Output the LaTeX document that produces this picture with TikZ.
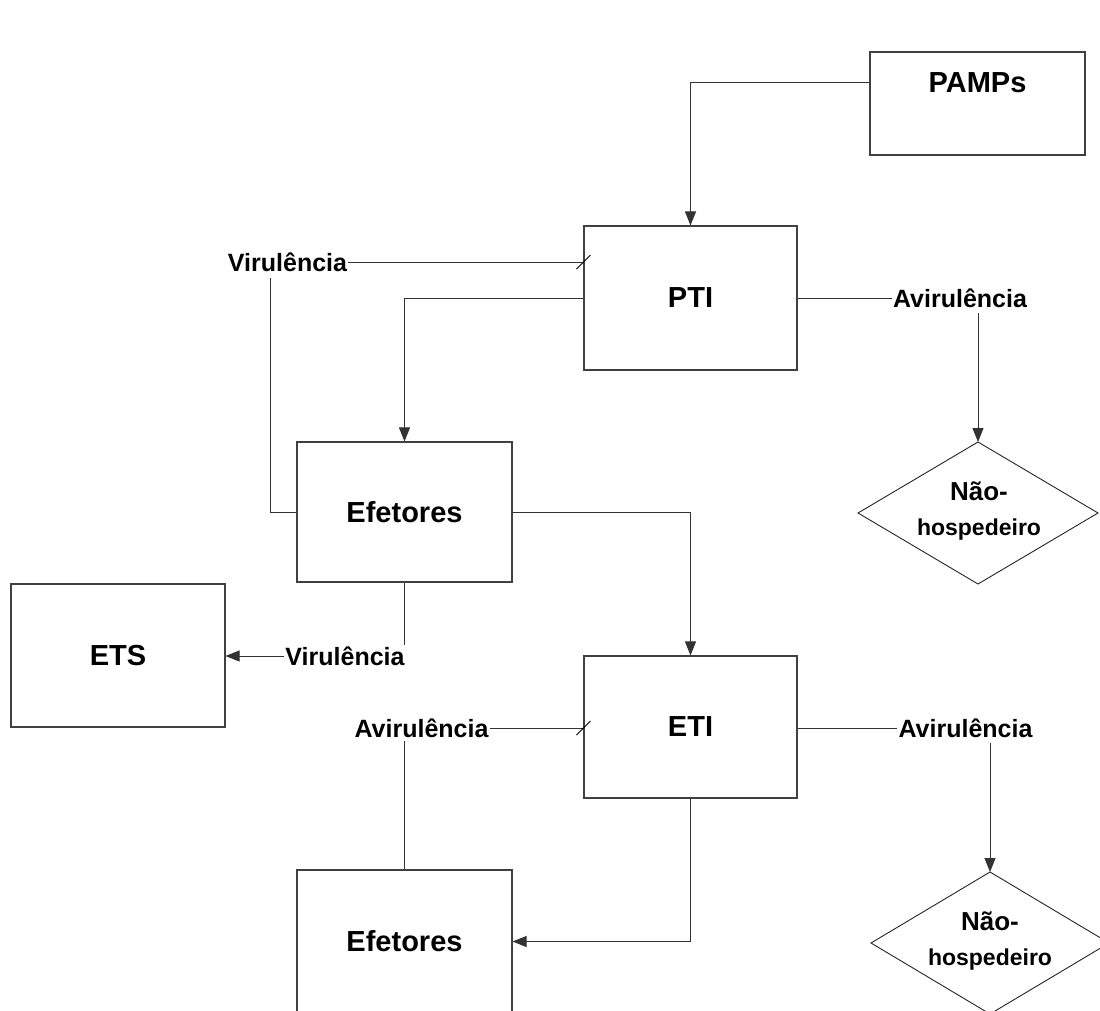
\documentclass[tikz,border=0pt]{standalone}
\usepackage{fontspec}
\setmainfont{Liberation Sans}
\usetikzlibrary{arrows.meta,calc}
\begin{document}
\begin{tikzpicture}[x=1pt,y=-1pt,
  conn/.style={line width=1pt,draw=black!80},
  box/.style={draw=black!75,line width=1.1pt,rectangle,inner sep=0pt,
    font=\fontsize{29}{33}\selectfont\bfseries},
  diapath/.style={draw=black!85,line width=0.9pt},
  diatext/.style={inner sep=0pt,align=center,
    font=\fontsize{23}{35}\selectfont\bfseries},
  lbl/.style={inner sep=1pt,font=\fontsize{25}{28}\selectfont\bfseries},
  arr/.style={conn,-{Triangle[length=14pt,width=11pt]}},
  inh/.style={line width=0.9pt,draw=black},
]
\useasboundingbox (0,0) rectangle (1100,1011);
\clip (0,0) rectangle (1100,1011);
\fill[white] (0,0) rectangle (1100,1011);

% boxes
\node[box,minimum width=215pt,minimum height=103pt] (pamps) at (977.5,103.5) {};
\node[font=\fontsize{29}{33}\selectfont\bfseries,inner sep=0pt] (pampsl) at (977.5,83) {PAMPs};
\node[box,minimum width=213pt,minimum height=144pt] (pti) at (690.5,298) {PTI};
\node[box,minimum width=215pt,minimum height=140pt] (ef1) at (404.5,512) {Efetores};
\node[box,minimum width=214pt,minimum height=143pt] (ets) at (118,655.5) {ETS};
\node[box,minimum width=213pt,minimum height=142pt] (eti) at (690.5,727) {ETI};
\node[box,minimum width=215pt,minimum height=143pt] (ef2) at (404.5,941.5) {Efetores};

% diamonds
\node[diatext] (d1) at (979,511) {{\fontsize{26}{35}\selectfont Não-}\\hospedeiro};
\coordinate (d1top) at (978,442);
\draw[diapath] (d1top) -- (1098,513) -- (978,584) -- (858,513) -- cycle;
\node[diatext] (d2) at (990,941) {{\fontsize{26}{35}\selectfont Não-}\\hospedeiro};
\coordinate (d2top) at (990,872);
\draw[diapath] (d2top) -- (1109,943) -- (990,1014) -- (871,943) -- cycle;

% labels
\node[lbl] (vir1) at (287.5,262) {Virulência};
\node[lbl] (avir1) at (960,298) {Avirulência};
\node[lbl] (vir2) at (345,656) {Virulência};
\node[lbl] (avir2) at (421.5,728) {Avirulência};
\node[lbl] (avir3) at (965.5,728) {Avirulência};

% connectors
\draw[arr] (pamps.west |- pampsl) -| (pti.north);
\coordinate (inh1) at (pti.west |- vir1);
\draw[conn] (vir1.east) -- (inh1);
\draw[inh] ($(inh1)+(-7,7)$) -- ($(inh1)+(7,-7)$);
\coordinate (v1foot) at ($(vir1.center)+(-17.5,16)$);
\draw[conn] (ef1.west) -| (v1foot);
\draw[arr] (pti.west) -| (ef1.north);
\draw[conn] (pti.east |- avir1) -- (avir1.west);
\coordinate (a1foot) at ($(avir1.center)+(18,15)$);
\draw[arr] (a1foot) -- (d1top);
\draw[arr] (ef1.east) -| (eti.north);
\draw[conn] (ef1.south) -- (ef1.south |- vir2.north);
\draw[arr] (vir2.west) -- (ets.east |- vir2.west);
\coordinate (inh2) at (eti.west |- avir2);
\draw[conn] (avir2.east) -- (inh2);
\draw[inh] ($(inh2)+(-7,7)$) -- ($(inh2)+(7,-7)$);
\coordinate (a2foot) at ($(ef2.north)+(0,-128)$);
\draw[conn] (a2foot) -- (ef2.north);
\draw[conn] (eti.east |- avir3) -- (avir3.west);
\coordinate (a3foot) at ($(avir3.center)+(24.5,15)$);
\draw[arr] (a3foot) -- (d2top);
\draw[arr] (eti.south) |- (ef2.east);
\end{tikzpicture}
\end{document}
